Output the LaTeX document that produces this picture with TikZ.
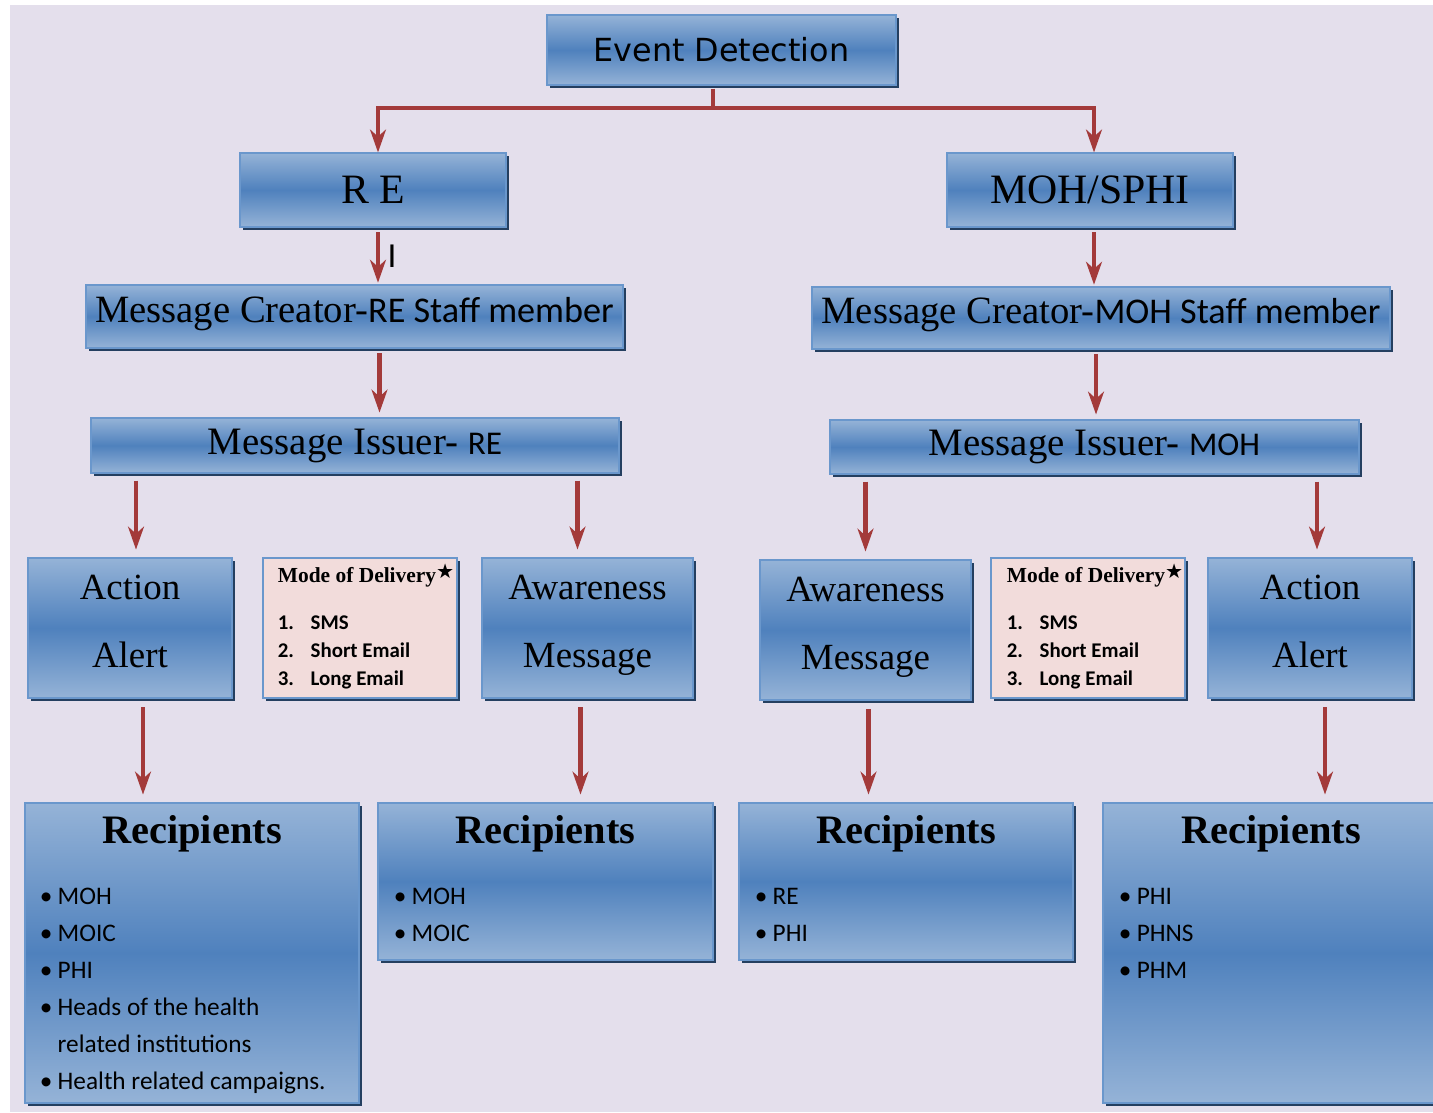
\documentclass[tikz,border=0pt]{standalone}
\usepackage{fontspec}
\setmainfont{Liberation Serif}
\newfontfamily\calibri{Carlito}
\newfontfamily\tahoma{DejaVu Sans}
\usepackage{tikz}
\usetikzlibrary{positioning,shadows,arrows.meta}

\definecolor{pagebg}{HTML}{E4DFEC}
\definecolor{boxlight}{HTML}{95B3D7}
\definecolor{boxmid}{HTML}{4F81BD}
\definecolor{boxline}{HTML}{6A97CC}
\definecolor{boxshadow}{HTML}{243F60}
\definecolor{modefill}{HTML}{F2DCDB}
\definecolor{arrowred}{HTML}{A33A3A}

\newcommand\pxu{0.02cm}
\newcommand\textpad{\rule[-8pt]{0pt}{0pt}}
\newcommand\creatorsans{\calibri\fontsize{20.6}{24}\selectfont}
\newcommand\issuersans{\calibri\fontsize{18.9}{22}\selectfont}

\tikzset{
  wh/.style 2 args={minimum width=#1*\pxu, minimum height=#2*\pxu},
  bluebox/.style={draw=boxline, line width=0.6pt, top color=boxlight, bottom color=boxlight,
    middle color=boxmid, inner sep=0pt, align=center,
    general shadow={fill=boxshadow, shadow xshift=1.7pt, shadow yshift=-1.7pt}},
  modebox/.style={draw=boxline, line width=0.6pt, fill=modefill, inner sep=0pt,
    general shadow={fill=boxshadow, shadow xshift=1.7pt, shadow yshift=-1.7pt}},
  arr/.style={draw=arrowred, line width=2.4pt, -{Stealth[length=13pt,width=9pt,inset=4pt]}},
  bigserif/.style={font=\fontsize{23.8}{28}\selectfont},
  creator/.style={font=\fontsize{22}{25}\selectfont},
  issuer/.style={font=\fontsize{22.1}{26}\selectfont},
  twoline/.style={font=\fontsize{21}{38.6}\selectfont},
  rtitle/.style={font=\bfseries\fontsize{23}{27}\selectfont, inner sep=0pt, anchor=base},
  rlist/.style={font=\calibri\fontsize{14.4}{21.1}\selectfont, inner sep=0pt, anchor=base west},
  mlist/.style={font=\calibri\bfseries\fontsize{11.9}{15.9}\selectfont, inner sep=0pt, anchor=base west}
}

\newcommand\modetext{%
  \begin{tabular}[t]{@{}p{18.7pt}@{}l@{}}
    \multicolumn{2}{@{}l@{}}{\rmfamily\bfseries\fontsize{12.2}{15}\selectfont Mode of Delivery\raisebox{0.45ex}{\tahoma\mdseries\fontsize{11.5}{11.5}\selectfont ★}}\\[10.7pt]
    1. & SMS\\
    2. & Short Email\\
    3. & Long Email
  \end{tabular}}

\begin{document}
\begin{tikzpicture}[x=\pxu, y=-\pxu]
  \useasboundingbox (0,0) rectangle (1433,1112);
  \fill[pagebg] (10,5) rectangle (1433,1112);

  % top levels
  \node[bluebox, wh={349}{70}, font=\tahoma\fontsize{18.1}{22}\selectfont] (ev) at (721.5,50) {Event Detection};
  \node[bluebox, wh={266}{74}, bigserif] (re) at (373,190) {R E};
  \node[bluebox, wh={286}{74}, bigserif] (moh) at (1090,190) {MOH/SPHI};
  \node[bluebox, wh={537}{63}, creator] (mc1) at (354.5,316.5) {Message Creator-{\creatorsans RE Staff member}\textpad};
  \node[bluebox, wh={578}{62}, creator] (mc2) at (1101,318) {Message Creator-{\creatorsans MOH Staff member}\textpad};
  \node[bluebox, wh={528}{55}, issuer] (mi1) at (355,445.5) {Message Issuer- {\issuersans RE}};
  \node[bluebox, wh={529}{54}, issuer] (mi2) at (1094.5,447) {Message Issuer- {\issuersans MOH}};

  % message types
  \node[bluebox, wh={204}{140}, twoline] (aa1) at (130,628) {Action\\Alert\textpad};
  \node[modebox, wh={194}{140}] (md1) at (360,628) {};
  \node[bluebox, wh={211}{140}, twoline] (am1) at (587.5,628) {Awareness\\Message\textpad};
  \node[bluebox, wh={211}{140}, twoline] (am2) at (865.5,630) {Awareness\\Message\textpad};
  \node[modebox, wh={194}{140}] (md2) at (1088,628) {};
  \node[bluebox, wh={204}{140}, twoline] (aa2) at (1310,628) {Action\\Alert\textpad};

  \node[mlist] (md1 text) at ([xshift=15*\pxu, yshift=-25*\pxu]md1.north west) {\modetext};
  \node[mlist] (md2 text) at ([xshift=16*\pxu, yshift=-25*\pxu]md2.north west) {\modetext};

  % recipients
  \node[bluebox, wh={334}{300}] (rc1) at (192,953) {};
  \node[bluebox, wh={335}{157}] (rc2) at (545.5,881.5) {};
  \node[bluebox, wh={334}{157}] (rc3) at (906,881.5) {};
  \node[bluebox, wh={336}{300}] (rc4) at (1271,953) {};

  \foreach \r in {rc1,rc2,rc3,rc4}
    \node[rtitle] (\r\space title) at ([yshift=-41*\pxu]\r.north) {Recipients};

  \node[rlist] (rc1 list) at ([xshift=15*\pxu, yshift=-102*\pxu]rc1.north west) {%
    \begin{tabular}[t]{@{}p{10.2pt}@{}l@{}}
      • & MOH\\ • & MOIC\\ • & PHI\\ • & Heads of the health\\ & related institutions\\ • & Health related campaigns.
    \end{tabular}};
  \node[rlist] (rc2 list) at ([xshift=16*\pxu, yshift=-102*\pxu]rc2.north west) {%
    \begin{tabular}[t]{@{}p{10.2pt}@{}l@{}}
      • & MOH\\ • & MOIC
    \end{tabular}};
  \node[rlist] (rc3 list) at ([xshift=16*\pxu, yshift=-102*\pxu]rc3.north west) {%
    \begin{tabular}[t]{@{}p{10.2pt}@{}l@{}}
      • & RE\\ • & PHI
    \end{tabular}};
  \node[rlist] (rc4 list) at ([xshift=16*\pxu, yshift=-102*\pxu]rc4.north west) {%
    \begin{tabular}[t]{@{}p{10.2pt}@{}l@{}}
      • & PHI\\ • & PHNS\\ • & PHM
    \end{tabular}};

  % connectors
  \coordinate (fork) at (713,108);
  \draw[arrowred, line width=2.4pt, shorten <=1.7pt] (ev.south -| fork) -- (fork);
  \draw[arr] (fork) -| ([xshift=5*\pxu]re.north);
  \draw[arr] (fork) -| ([xshift=4*\pxu]moh.north);

  \draw[arr, shorten <=2.8pt, shorten >=1pt] ([xshift=5*\pxu]re.south) -- ([xshift=5*\pxu]re.south |- mc1.north)
    node[midway, right=1pt, font=\calibri\fontsize{20}{20}\selectfont] {I};
  \draw[arr, shorten <=2.8pt, shorten >=1pt] ([xshift=4*\pxu]moh.south) -- ([xshift=4*\pxu]moh.south |- mc2.north);
  \draw[arr, shorten <=2.8pt, shorten >=2.8pt] ([xshift=25*\pxu]mc1.south) -- ([xshift=25*\pxu]mc1.south |- mi1.north);
  \draw[arr, shorten <=2.8pt, shorten >=2.8pt] ([xshift=-5*\pxu]mc2.south) -- ([xshift=-5*\pxu]mc2.south |- mi2.north);

  \draw[arr, shorten <=4pt, shorten >=4.5pt] ([xshift=6*\pxu]aa1.north |- mi1.south) -- ([xshift=6*\pxu]aa1.north);
  \draw[arr, shorten <=4pt, shorten >=4.5pt] ([xshift=-10*\pxu]am1.north |- mi1.south) -- ([xshift=-10*\pxu]am1.north);
  \draw[arr, shorten <=4pt, shorten >=4.5pt] (am2.north |- mi2.south) -- (am2.north);
  \draw[arr, shorten <=4pt, shorten >=4.5pt] ([xshift=7*\pxu]aa2.north |- mi2.south) -- ([xshift=7*\pxu]aa2.north);

  \draw[arr, shorten <=5pt, shorten >=4.5pt] ([xshift=13*\pxu]aa1.south) -- ([xshift=13*\pxu]aa1.south |- rc1.north);
  \draw[arr, shorten <=5pt, shorten >=4.5pt] ([xshift=-7*\pxu]am1.south) -- ([xshift=-7*\pxu]am1.south |- rc2.north);
  \draw[arr, shorten <=5pt, shorten >=4.5pt] ([xshift=3*\pxu]am2.south) -- ([xshift=3*\pxu]am2.south |- rc3.north);
  \draw[arr, shorten <=5pt, shorten >=4.5pt] ([xshift=15*\pxu]aa2.south) -- ([xshift=15*\pxu]aa2.south |- rc4.north);
\end{tikzpicture}
\end{document}
